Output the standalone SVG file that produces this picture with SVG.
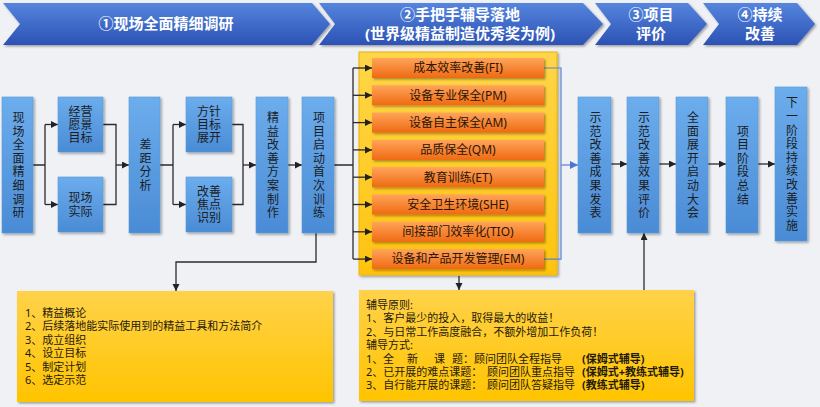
<svg xmlns="http://www.w3.org/2000/svg" width="820" height="407" viewBox="0 0 820 407">
<defs>
<linearGradient id="gh" x1="0" y1="0" x2="0" y2="1"><stop offset="0" stop-color="#5585de"/><stop offset="1" stop-color="#2c52b4"/></linearGradient>
<linearGradient id="gb" x1="0" y1="0" x2="0" y2="1"><stop offset="0" stop-color="#6caded"/><stop offset="1" stop-color="#4a8bd5"/></linearGradient>
<linearGradient id="go" x1="0" y1="0" x2="0" y2="1"><stop offset="0" stop-color="#ffa45a"/><stop offset="1" stop-color="#ef6a12"/></linearGradient>
<linearGradient id="gy" x1="0" y1="0" x2="0" y2="1"><stop offset="0" stop-color="#ffd649"/><stop offset="1" stop-color="#ffc30f"/></linearGradient>
<linearGradient id="gy2" x1="0" y1="0" x2="0" y2="1"><stop offset="0" stop-color="#ffd24a"/><stop offset="1" stop-color="#ffc400"/></linearGradient>
<filter id="sh" x="-20%" y="-20%" width="140%" height="140%"><feDropShadow dx="1.5" dy="1.5" stdDeviation="1.2" flood-color="#000" flood-opacity="0.35"/></filter>
<marker id="ar" markerUnits="userSpaceOnUse" markerWidth="8" markerHeight="8" refX="7" refY="3.5" orient="auto"><path d="M0,0 L7,3.5 L0,7 z" fill="#222"/></marker>
<marker id="arb" markerUnits="userSpaceOnUse" markerWidth="9" markerHeight="9" refX="8" refY="4" orient="auto"><path d="M0,0 L8,4 L0,8 z" fill="#4a78d0"/></marker>
<style>
.t{font-family:"Noto Sans","Noto Sans CJK SC",sans-serif}
.hd{fill:url(#gh);filter:url(#sh)}
.ht{font-size:15px;font-weight:bold;fill:#fff;text-anchor:middle}
.bn{fill:url(#gb);stroke:#5a9ad8;stroke-width:0.6;filter:url(#sh)}
.nt{font-family:"Liberation Sans","Noto Sans CJK SC",sans-serif;font-size:12px;fill:#1c1c1c;text-anchor:middle}
.vt{font-size:12px;fill:#1c1c1c;text-anchor:middle;writing-mode:vertical-rl;letter-spacing:1.6px}
.ob{fill:url(#go);filter:url(#sh)}
.ot{font-size:12px;fill:#2a1606;text-anchor:middle}
.yb{fill:url(#gy2);filter:url(#sh)}
.bt{font-size:11px;fill:#1f1a08}
.bd{font-weight:bold}
.ln{stroke:#2b2b2b;stroke-width:1.3;fill:none}
.la{stroke:#2b2b2b;stroke-width:1.3;fill:none;marker-end:url(#ar)}
.lb{stroke:#5a82d0;stroke-width:1.2;fill:none}
</style>
</defs>
<rect x="0" y="0" width="820" height="407" fill="#eff1f5"/>

<g id="header">
<path class="hd" d="M3,3 L312,3 L330,24 L312,45 L3,45 L20,24 Z"/>
<path class="hd" d="M319,3 L583,3 L603,24 L583,45 L319,45 L335,24 Z"/>
<path class="hd" d="M595,3 L688,3 L707,24 L688,45 L595,45 L611,24 Z"/>
<path class="hd" d="M703,3 L797,3 L815,24 L797,45 L703,45 L719,24 Z"/>
<text class="t ht" x="166" y="29">①现场全面精细调研</text>
<text class="t ht" x="460" y="20">②手把手辅导落地</text>
<text class="t ht" x="460" y="38.5">(世界级精益制造优秀奖为例)</text>
<text class="t ht" x="651" y="20">③项目</text>
<text class="t ht" x="651" y="38.5">评价</text>
<text class="t ht" x="760" y="20">④持续</text>
<text class="t ht" x="760" y="38.5">改善</text>
</g>

<g id="container">
<rect x="359" y="52" width="198" height="223" fill="url(#gy)" stroke="#e9b400" stroke-width="1" filter="url(#sh)"/>
</g>

<g id="connectors">
<path class="ln" d="M33,165 H45 M45,124.5 V204.5"/>
<path class="la" d="M45,124.5 H58"/>
<path class="la" d="M45,204.5 H58"/>
<path class="ln" d="M103,124.5 H116 V204.5 H103"/>
<path class="la" d="M116,165 H129"/>
<path class="ln" d="M160,165 H173 M173,124.5 V204.5"/>
<path class="la" d="M173,124.5 H186"/>
<path class="la" d="M173,204.5 H186"/>
<path class="ln" d="M232,124.5 H243 V204.5 H232"/>
<path class="la" d="M243,165 H256"/>
<path class="la" d="M288,165 H302"/>
<path class="ln" d="M334,165 H353 M353,68 V259.1"/>
<path class="la" d="M353,68 H372"/>
<path class="la" d="M353,95.3 H372"/>
<path class="la" d="M353,122.6 H372"/>
<path class="la" d="M353,149.9 H372"/>
<path class="la" d="M353,177.2 H372"/>
<path class="la" d="M353,204.5 H372"/>
<path class="la" d="M353,231.8 H372"/>
<path class="la" d="M353,259.1 H372"/>
<path class="la" d="M316,233 V262 H176 V291"/>
<path class="la" d="M459,276 V290"/>
<path class="lb" d="M544,68 H561 V259.1 H544"/>
<path class="lb" d="M561,165 H578" marker-end="url(#arb)"/>
<path class="la" d="M611,164 H627"/>
<path class="la" d="M659,164 H676"/>
<path class="la" d="M708,164 H726"/>
<path class="la" d="M758,164 H775"/>
<path class="la" d="M644,290 V233"/>
</g>

<g id="n-survey">
<rect class="bn" x="2" y="97" width="31" height="136"/>
<text class="t vt" x="17.5" y="165.8">现场全面精细调研</text>
</g>
<g id="n-vision">
<rect class="bn" x="58" y="97" width="45" height="55"/>
<text class="nt" x="80.5" y="115.5"><tspan x="80.5">经营</tspan><tspan x="80.5" dy="13.4">愿景</tspan><tspan x="80.5" dy="13.4">目标</tspan></text>
</g>
<g id="n-actual">
<rect class="bn" x="58" y="177" width="45" height="55"/>
<text class="nt" x="80.5" y="202.2"><tspan x="80.5">现场</tspan><tspan x="80.5" dy="13.4">实际</tspan></text>
</g>
<g id="n-gap">
<rect class="bn" x="129" y="97" width="31" height="136"/>
<text class="t vt" x="144.5" y="165.8">差距分析</text>
</g>
<g id="n-policy">
<rect class="bn" x="186" y="97" width="46" height="55"/>
<text class="nt" x="209" y="115.5"><tspan x="209">方针</tspan><tspan x="209" dy="13.4">目标</tspan><tspan x="209" dy="13.4">展开</tspan></text>
</g>
<g id="n-focus">
<rect class="bn" x="186" y="177" width="46" height="55"/>
<text class="nt" x="209" y="195.5"><tspan x="209">改善</tspan><tspan x="209" dy="13.4">焦点</tspan><tspan x="209" dy="13.4">识别</tspan></text>
</g>
<g id="n-plan">
<rect class="bn" x="256" y="97" width="32" height="136"/>
<text class="t vt" x="272" y="165.8">精益改善方案制作</text>
</g>
<g id="n-kickoff">
<rect class="bn" x="302" y="97" width="32" height="136"/>
<text class="t vt" x="318" y="165.8">项目启动首次训练</text>
</g>

<g id="n-fi"><rect class="ob" x="372" y="58" width="172" height="20"/><text class="t ot" x="458" y="72.3">成本效率改善(FI)</text></g>
<g id="n-pm"><rect class="ob" x="372" y="85.3" width="172" height="20"/><text class="t ot" x="458" y="99.6">设备专业保全(PM)</text></g>
<g id="n-am"><rect class="ob" x="372" y="112.6" width="172" height="20"/><text class="t ot" x="458" y="126.9">设备自主保全(AM)</text></g>
<g id="n-qm"><rect class="ob" x="372" y="139.9" width="172" height="20"/><text class="t ot" x="458" y="154.2">品质保全(QM)</text></g>
<g id="n-et"><rect class="ob" x="372" y="167.2" width="172" height="20"/><text class="t ot" x="458" y="181.5">教育训练(ET)</text></g>
<g id="n-she"><rect class="ob" x="372" y="194.5" width="172" height="20"/><text class="t ot" x="458" y="208.8">安全卫生环境(SHE)</text></g>
<g id="n-tio"><rect class="ob" x="372" y="221.8" width="172" height="20"/><text class="t ot" x="458" y="236.1">间接部门效率化(TIO)</text></g>
<g id="n-em"><rect class="ob" x="372" y="249.1" width="172" height="20"/><text class="t ot" x="458" y="263.4">设备和产品开发管理(EM)</text></g>

<g id="n-present">
<rect class="bn" x="578" y="97" width="33" height="136"/>
<text class="t vt" x="594.5" y="165.8">示范改善成果发表</text>
</g>
<g id="n-evaluate">
<rect class="bn" x="627" y="97" width="32" height="136"/>
<text class="t vt" x="643" y="165.8">示范改善效果评价</text>
</g>
<g id="n-rollout">
<rect class="bn" x="676" y="97" width="32" height="136"/>
<text class="t vt" x="692" y="165.8">全面展开启动大会</text>
</g>
<g id="n-summary">
<rect class="bn" x="726" y="97" width="32" height="136"/>
<text class="t vt" x="742" y="165.8">项目阶段总结</text>
</g>
<g id="n-next">
<rect class="bn" x="775" y="87" width="32" height="154"/>
<text class="t vt" x="791" y="164.8">下一阶段持续改善实施</text>
</g>

<g id="n-training-content">
<rect class="yb" x="17" y="291" width="316" height="111"/>
<text class="t bt" x="25" y="317"><tspan x="25">1、精益概论</tspan><tspan x="25" dy="13.4">2、后续落地能实际使用到的精益工具和方法简介</tspan><tspan x="25" dy="13.4">3、成立组织</tspan><tspan x="25" dy="13.4">4、设立目标</tspan><tspan x="25" dy="13.4">5、制定计划</tspan><tspan x="25" dy="13.4">6、选定示范</tspan></text>
</g>

<g id="n-coaching">
<rect class="yb" x="359" y="290" width="335" height="111"/>
<text class="t bt" x="366" y="309">辅导原则:</text>
<text class="t bt" x="366" y="322.4">1、客户最少的投入，取得最大的收益！</text>
<text class="t bt" x="366" y="335.8">2、与日常工作高度融合，不额外增加工作负荷！</text>
<text class="t bt" x="366" y="349.2">辅导方式:</text>
<text class="t bt" y="362.6"><tspan x="366">1、</tspan><tspan x="383">全</tspan><tspan x="407">新</tspan><tspan x="434">课</tspan><tspan x="452">题：顾问团队全程指导</tspan><tspan class="bd" x="582">(保姆式辅导)</tspan></text>
<text class="t bt" y="376"><tspan x="366">2、已开展的难点课题：</tspan><tspan x="487">顾问团队重点指导</tspan><tspan class="bd" x="582">(保姆式+教练式辅导)</tspan></text>
<text class="t bt" y="389.4"><tspan x="366">3、自行能开展的课题：</tspan><tspan x="487">顾问团队答疑指导</tspan><tspan class="bd" x="582">(教练式辅导)</tspan></text>
</g>
</svg>
